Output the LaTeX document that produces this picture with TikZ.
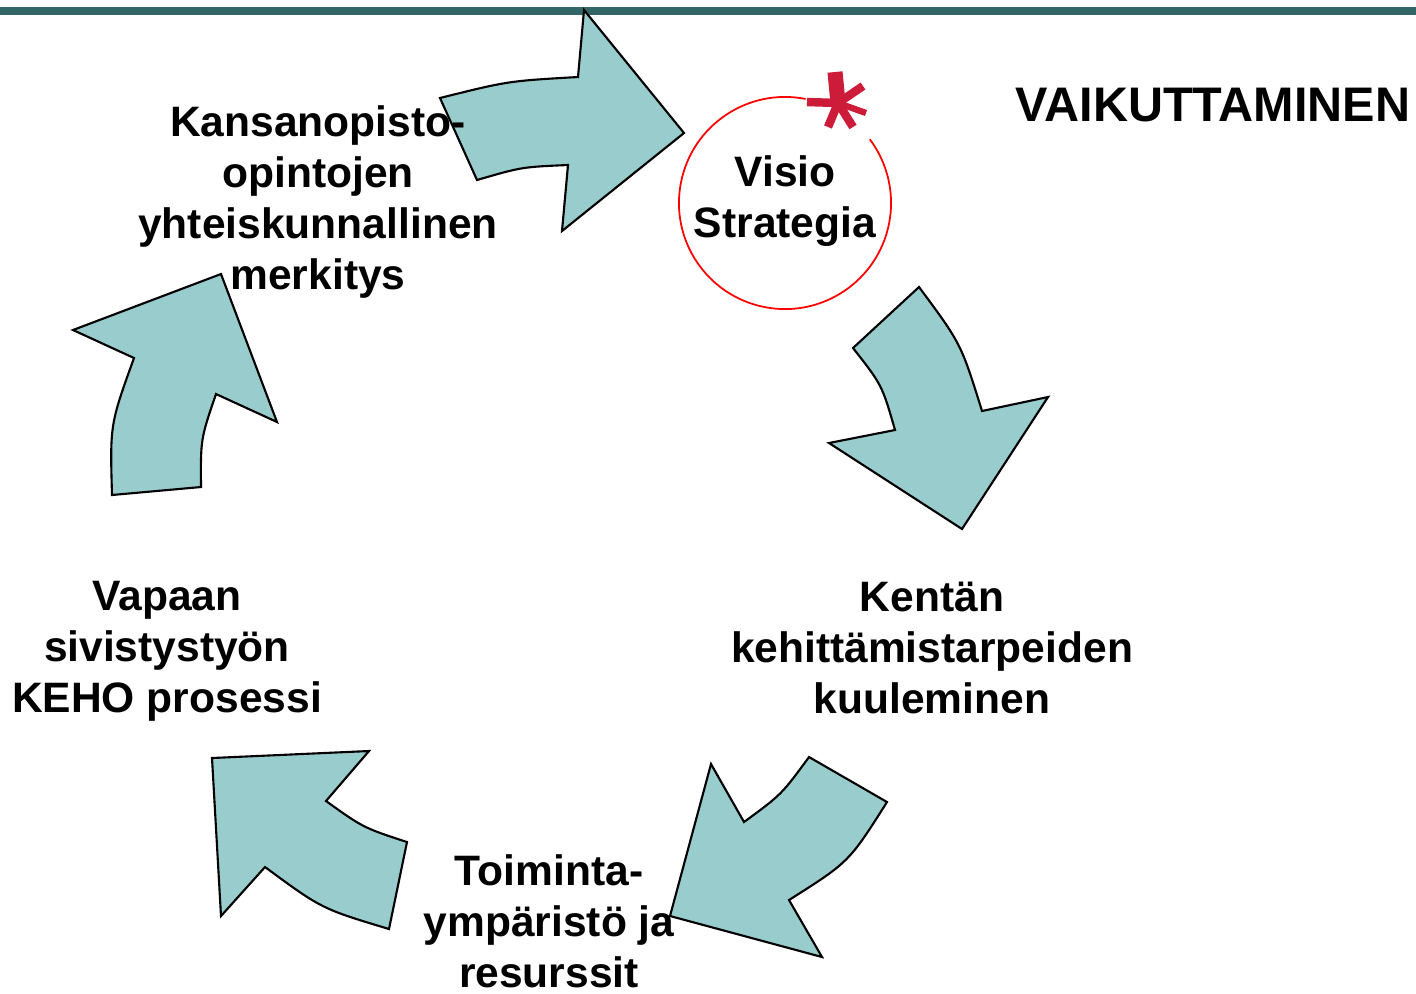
\documentclass[tikz,border=0pt]{standalone}
\usepackage{fontspec}
\setmainfont{Liberation Sans}
\usepackage{tikz}
\usetikzlibrary{positioning, calc}
\definecolor{barteal}{RGB}{51,102,102}
\definecolor{arrowfill}{RGB}{153,204,204}
\definecolor{starred}{RGB}{204,28,58}

\begin{document}
\begin{tikzpicture}[
  x=0.01cm, y=-0.01cm,
  every node/.style={align=center},
  label/.style={font=\fontsize{12.1}{14.5}\selectfont\bfseries, inner sep=0pt},
  title/.style={font=\fontsize{13.8}{16}\selectfont\bfseries, inner sep=0pt},
  bigarrow/.style={draw=black, fill=arrowfill, line width=0.6pt, line join=miter},
  starbar/.style={draw=starred, line cap=butt}
]
\useasboundingbox (0,0) rectangle (1416,993);

% Top bar
\fill[barteal] (0,7) rectangle (1416,15);

% Cycle arrows (clockwise)
\draw[bigarrow] (440,98) .. controls (508,81) .. (578,77) -- (584,10) -- (684,133)
  -- (562,231) -- (568,165) .. controls (521.6,167) .. (477,180) -- cycle;
\draw[bigarrow] (919,287) .. controls (961,343.6) .. (982,411) -- (1048,397) -- (962,529)
  -- (829,443) -- (895,430) .. controls (882,385) .. (853,348) -- cycle;
\draw[bigarrow] (809,757) -- (887,802) .. controls (849,862) .. (789,900) -- (822,957)
  -- (670,916) -- (711,764) -- (744,822) .. controls (781.5,794.5) .. cycle;
\draw[bigarrow] (212,758) -- (369,751) -- (326,801) .. controls (363.3,827.7) .. (407,842)
  -- (389,929) .. controls (321.6,908.7) .. (265,867) -- (221,916) -- cycle;
\draw[bigarrow] (221,274) -- (277,422) -- (216,394) .. controls (200.6,439) .. (201,487)
  -- (112,495) .. controls (110,424.4) .. (134,358) -- (73,330) -- cycle;

% Vision circle with gap for the star
\draw[red, line width=0.5pt] (785,203) ++(78.8:1.06cm) arc[start angle=78.8, end angle=397, radius=1.06cm];

% Star logo
\coordinate (starc) at (838,103);
\draw[starbar, line width=4.3pt] (starc) -- (835,72);
\draw[starbar, line width=2.4pt] (starc) -- (807,102);
\draw[starbar, line width=2.4pt] (starc) -- (863,86);
\draw[starbar, line width=1.8pt] (starc) -- (866,113);
\draw[starbar, line width=2.4pt] (starc) -- (853,127);
\draw[starbar, line width=2.4pt] (starc) -- (828,127);

% Labels
\node (vaik) [title] at (1213,105) {VAIKUTTAMINEN};
\node (visio) [label] at (785,201) {Visio\\Strategia};
\node (kansan) [label] at (318,202) {Kansanopisto-\\opintojen\\yhteiskunnallinen\\merkitys};
\node (kentan) [label] at (932,648) {Kentän\\kehittämistarpeiden\\kuuleminen};
\node (toiminta) [label] at (549,921) {Toiminta-\\ympäristö ja\\resurssit};
\node (vapaan) [label] at (167,651) {Vapaan\\sivistystyön\\KEHO prosessi};

\end{tikzpicture}
\end{document}
